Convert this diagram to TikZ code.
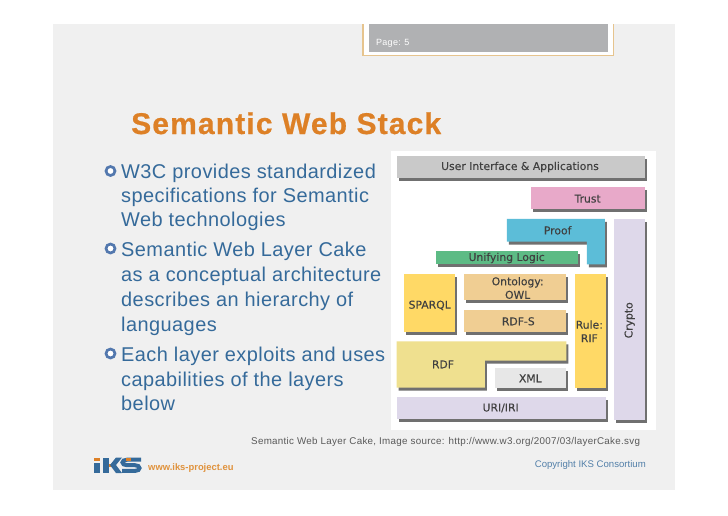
\documentclass[tikz,border=0pt]{standalone}
\usepackage{fontspec}
\setmainfont{Liberation Sans}
\newfontfamily\bodyf[LetterSpace=2.2]{Liberation Sans}
\newfontfamily\titlef[LetterSpace=3.8,BoldFeatures={FakeBold=0.6}]{Liberation Sans}
\newfontfamily\capf[LetterSpace=3]{Liberation Sans}
\newfontfamily\cakef[FakeBold=0.25]{DejaVu Sans}
\definecolor{slidebg}{HTML}{F0F0F0}
\definecolor{bodyblue}{HTML}{356A9A}
\definecolor{bulletc}{HTML}{5378AE}
\definecolor{titleor}{HTML}{DD8026}
\definecolor{webor}{HTML}{E0923C}
\definecolor{tabline}{HTML}{E6C48E}
\definecolor{tabgrey}{HTML}{B0B1B3}
\definecolor{shadowc}{HTML}{707070}
\definecolor{cui}{HTML}{C9C9C9}
\definecolor{ctrust}{HTML}{E8A9C9}
\definecolor{cproof}{HTML}{5CBDD8}
\definecolor{clogic}{HTML}{5DBB85}
\definecolor{csparql}{HTML}{FFD966}
\definecolor{cowl}{HTML}{F0CE93}
\definecolor{crdf}{HTML}{EFE08F}
\definecolor{cxml}{HTML}{E7E7E7}
\definecolor{curi}{HTML}{DED8EA}
\tikzset{
  txt/.style={anchor=base west,inner sep=0pt,font=\bodyf\fontsize{19.95}{21}\selectfont,text=bodyblue},
  blt/.style={draw=bulletc,line width=2.7pt,fill=white,circle,minimum size=9pt,inner sep=0pt},
  lab/.style={font=\cakef\fontsize{10.8}{13.5}\selectfont,text=black!75,align=center,inner sep=0pt},
  shad/.style={fill=shadowc},
}
\newcommand{\cakebox}[6]{% name, x1,y1,x2,y2, colour
  \fill[shad] (#2+6,#3+9) rectangle (#4+6,#5+9);
  \fill[#6] (#2,#3) rectangle (#4,#5);
  \node[inner sep=0pt,minimum size=0pt] (#1) at ({(#2+#4)/2},{(#3+#5)/2}) {};
}
\begin{document}
\begin{tikzpicture}[x=1pt,y=-1pt]
\useasboundingbox (0,0) rectangle (728,515);
\fill[white] (0,0) rectangle (728,515);
\fill[slidebg] (53,24) rectangle (675,490);
% page tab
\fill[white] (363,24) rectangle (614,56);
\draw[draw=tabline,line width=1.1pt] (363,24) -- (363,55.5) -- (613.5,55.5) -- (613.5,24);
\fill[tabgrey] (369,24) rectangle (607.5,52);
\node[anchor=base west,inner sep=0pt,font=\capf\fontsize{9}{9}\selectfont,text=white] (page) at (376,45) {Page: 5};
% title
\node[anchor=base west,inner sep=0pt,font=\titlef\bfseries\fontsize{30}{30}\selectfont,text=titleor] (title) at (131,134) {Semantic Web Stack};
% bullets
\node[blt] (b1) at (110.5,171) {};
\node[blt] (b2) at (110.5,248.5) {};
\node[blt] (b3) at (110.5,353.5) {};
\node[txt] (t1) at (121,178) {W3C provides standardized};
\node[txt] (t2) at (121,202) {specifications for Semantic};
\node[txt] (t3) at (121,226) {Web technologies};
\node[txt] (t4) at (121,256) {Semantic Web Layer Cake};
\node[txt] (t5) at (121,281) {as a conceptual architecture};
\node[txt] (t6) at (121,306) {describes an hierarchy of};
\node[txt] (t7) at (121,331) {languages};
\node[txt] (t8) at (121,361) {Each layer exploits and uses};
\node[txt] (t9) at (121,386) {capabilities of the layers};
\node[txt] (t10) at (121,410) {below};
% image
\fill[white] (391,151) rectangle (656,430);
\begin{scope}[shift={(385,145)},x=0.3333pt,y=-0.3333pt]
\cakebox{ui}{35}{33}{780}{100}{cui}
\cakebox{trust}{438}{127}{780}{192}{ctrust}
\cakebox{crypto}{688}{222}{780}{825}{curi}
\fill[shad] (372,231) -- (666,231) -- (666,367) -- (612,367) -- (612,299) -- (372,299) -- cycle;
\fill[cproof] (366,222) -- (660,222) -- (660,358) -- (606,358) -- (606,290) -- (366,290) -- cycle;
\cakebox{logic}{153}{317}{578}{358}{clogic}
\cakebox{sparql}{58}{388}{210}{560}{csparql}
\cakebox{owl}{236}{388}{544}{466}{cowl}
\cakebox{rdfs}{236}{494}{544}{560}{cowl}
\cakebox{rif}{569}{388}{662}{728}{csparql}
\fill[shad] (41,598) -- (550,598) -- (550,656) -- (306,656) -- (306,737) -- (41,737) -- cycle;
\fill[crdf] (35,589) -- (544,589) -- (544,647) -- (300,647) -- (300,728) -- (35,728) -- cycle;
\cakebox{xml}{331}{670}{544}{728}{cxml}
\cakebox{uri}{35}{755}{662}{822}{curi}
\node[lab] (Lui) at (405,66) {User Interface \& Applications};
\node[lab] (Ltrust) at (608,161) {Trust};
\node[lab] (Lproof) at (518,256) {Proof};
\node[lab] (Llogic) at (365,339) {Unifying Logic};
\node[lab] (Lowl) at (398,429) {Ontology:\\OWL};
\node[lab] (Lsparql) at (134,481) {SPARQL};
\node[lab] (Lrdfs) at (400,529) {RDF-S};
\node[lab] (Lrif) at (613,559) {Rule:\\RIF};
\node[lab] (Lrdf) at (174,658) {RDF};
\node[lab] (Lxml) at (436,700) {XML};
\node[lab] (Luri) at (347,789) {URI/IRI};
\node[lab,rotate=90] (Lcrypto) at (734,526) {Crypto};
\end{scope}
% caption
\node[anchor=base west,inner sep=0pt,font=\capf\fontsize{9.8}{10}\selectfont,text=black!65] (cap) at (251,444) {Semantic Web Layer Cake, Image source: http://www.w3.org/2007/03/layerCake.svg};
\node[anchor=base west,inner sep=0pt,font=\bfseries\fontsize{9.4}{10}\selectfont,text=webor] (web) at (148,470) {www.iks-project.eu};
\node[anchor=base east,inner sep=0pt,font=\fontsize{9.6}{10}\selectfont,text=bodyblue!85!white] (copy) at (646,467) {Copyright IKS Consortium};
% logo
\fill[bodyblue] (94,462.5) rectangle (100,473);
\fill[titleor] (94,457.5) rectangle (100,461);
\fill[bodyblue] (103,457.5) rectangle (108.5,473);
\fill[titleor] (108.5,463.5) rectangle (112,467);
\fill[bodyblue] (110,465) -- (116,457.5) -- (122,457.5) -- (116,465) -- (122,473) -- (116,473) -- cycle;
\draw[bodyblue,line width=4pt] (141,459.7) -- (127,459.7) .. controls (121,459.7) and (121,465.2) .. (127,465.2) -- (135,465.2) .. controls (141,465.2) and (141,470.9) .. (135,470.9) -- (122,470.9);
\fill[titleor] (126,457.7) rectangle (131,461);
\end{tikzpicture}
\end{document}
